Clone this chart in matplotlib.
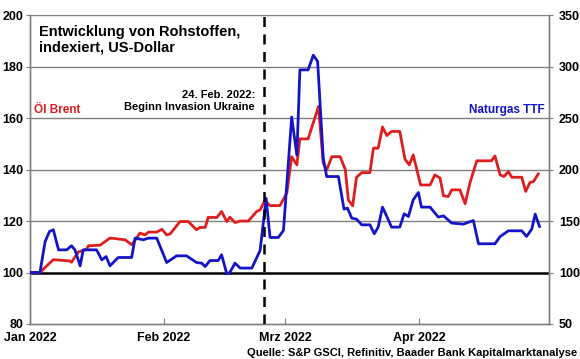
import matplotlib
matplotlib.use("Agg")
import matplotlib.pyplot as plt

plt.rcParams['font.family'] = ['Liberation Sans', 'DejaVu Sans']
plt.rcParams['font.weight'] = 'bold'

# days since 1 Jan 2022
brent_days = [0, 2.3, 3.5, 5.4, 9.2, 9.6, 11.2, 13.1, 13.5, 16.2, 18.5, 22.0, 23.5, 24.7,
              25.4, 26.6, 27.4, 29.3, 30.5, 31.6, 32.4, 34.7, 36.6, 38.5, 39.3, 40.5,
              41.2, 43.2, 44.3, 45.5, 46.2, 47.4, 48.6, 50.5, 52.4, 53.2, 54.3, 55.5,
              57.8, 59.4, 60.5, 61.7, 62.4, 64.3, 66.7, 67.8, 68.6, 69.8, 71.7, 72.9,
              73.6, 74.6, 75.5, 76.7, 78.6, 79.4, 80.5, 81.5, 82.5, 83.6, 85.5, 86.7,
              87.7, 88.6, 90.3, 92.5, 93.6, 94.8, 95.6, 96.7, 97.5, 99.4, 100.6, 101.7,
              103.3, 106.7, 107.5, 108.7, 109.6, 110.6, 111.4, 113.7, 114.6, 115.6,
              116.4, 117.5]
brent = [100, 100, 102, 105, 104.5, 104, 108, 109, 110.4, 110.6, 113.4, 112.7, 110.8, 113.4,
         115.3, 114.6, 115.7, 115.7, 116.8, 114.6, 115, 119.8, 119.8, 116.6, 117.5, 117.5,
         121.4, 121.4, 123.7, 119.8, 121.5, 119.4, 120, 120, 123.7, 124.3, 128, 126,
         126, 131, 145, 141.8, 151.9, 151.9, 164.5, 142.5, 139.9, 145, 145, 140,
         128.2, 125.9, 137, 138.8, 138.8, 148.3, 148.3, 156.5, 153.2, 154.8, 154.8, 144,
         141.8, 145.7, 134, 134, 137.9, 136.7, 129.8, 129.5, 132.1, 132.1, 126.7, 134.7,
         143.4, 143.4, 145.3, 137.9, 137.3, 139.2, 137, 137, 131.5, 135,
         135.3, 138.3]

ttf_days = [0, 2.3, 3.5, 4.5, 5.4, 6.6, 8.5, 9.6, 10.4, 11.6, 12.3, 15.4, 16.6, 17.6,
            18.5, 20.4, 23.5, 24.3, 26.2, 27.4, 29.3, 31.6, 33.9, 36.2, 38.5, 39.7,
            40.5, 41.6, 43.5, 44.3, 45.5, 46.2, 47.4, 48.6, 51.3, 53.2, 54.6, 55.5,
            57.4, 58.6, 60.5, 61.7, 62.4, 64.3, 65.5, 66.5, 67.8, 68.6, 71.3, 72.6,
            73.4, 74.4, 75.5, 76.7, 78.6, 79.6, 80.5, 81.5, 82.5, 83.6, 85.5, 86.5,
            87.5, 88.6, 89.8, 90.5, 92.5, 94.4, 95.6, 97.5, 100.2, 102.5, 103.7,
            107.5, 108.7, 110.6, 113.7, 114.8, 116.0, 116.8, 117.8]
ttf = [100, 100, 130, 139.8, 141.5, 122, 122, 126, 122, 106.5, 122, 122, 112.3, 115.5,
       106.5, 114.6, 114.6, 133.4, 131.8, 133.4, 133.4, 109.7, 116.2, 116.2, 109.7, 109.1,
       105.8, 111.6, 111.6, 117.2, 98.7, 100, 109.1, 104.3, 104.3, 121.4, 172, 134,
       134, 140.8, 251, 214, 296.8, 296.8, 311, 305, 211, 193.2, 193.2, 161.6,
       162.5, 152.8, 151.8, 146.3, 146.3, 137.6, 144.1, 163.5, 154.4, 144.1, 144.1, 157,
       154.4, 170.6, 177.7, 163.5, 163.5, 153.8, 155, 148, 147, 150.5, 127.9,
       127.9, 135, 140.5, 140.5, 135, 142.1, 156.7, 144.7]

month_ticks = [0, 31, 59, 90, 120]
month_labels = ['Jan 2022', 'Feb 2022', 'Mrz 2022', 'Apr 2022', '']
invasion_day = 54

red = '#e01e1e'
blue = '#1414c8'
grey = '#808080'

fig = plt.figure(figsize=(5.8, 3.59), dpi=100)
ax = fig.add_axes([0.0517, 0.0975, 0.8949, 0.8605])
ax2 = ax.twinx()

ax.set_xlim(0, 120)
ax.set_ylim(80, 200)
ax2.set_ylim(50, 350)

for y in [120, 140, 160, 180, 200]:
    ax.axhline(y, color=grey, lw=1, zorder=1)
ax.axhline(100, color='black', lw=1.8, zorder=2)

ax.plot(brent_days, brent, color=red, lw=2, zorder=3)
ax2.plot(ttf_days, ttf, color=blue, lw=2, zorder=3)
ax2.axvline(invasion_day, color='black', lw=1.8, ls=(0, (4, 3)), zorder=4)

ax.set_yticks([80, 100, 120, 140, 160, 180, 200])
ax2.set_yticks([50, 100, 150, 200, 250, 300, 350])
ax.set_xticks(month_ticks)
ax.set_xticklabels(month_labels)

for a in (ax, ax2):
    a.spines['top'].set_visible(False)
    for s in ['left', 'right', 'bottom']:
        a.spines[s].set_color(grey)
        a.spines[s].set_linewidth(1)
ax.tick_params(axis='y', length=3, color=grey, labelsize=9, pad=2)
ax2.tick_params(axis='y', length=3, color=grey, labelsize=9, pad=4)
ax.tick_params(axis='x', direction='in', length=4, color=grey, labelsize=9, pad=6)
for lab in ax.get_yticklabels() + ax2.get_yticklabels() + ax.get_xticklabels():
    lab.set_fontweight('bold')

ax.text(2, 196, 'Entwicklung von Rohstoffen,\nindexiert, US-Dollar', fontsize=10.5,
        fontweight='bold', va='top', ha='left', linespacing=1.1)
ax.text(52, 171, '24. Feb. 2022:\nBeginn Invasion Ukraine', fontsize=8, fontweight='bold',
        va='top', ha='right', linespacing=1.25)
ax.text(1, 163.2, 'Öl Brent', fontsize=8.5, fontweight='bold', color=red, va='center')
ax.text(119, 163.2, 'Naturgas TTF', fontsize=8.5, fontweight='bold', color=blue,
        va='center', ha='right')
fig.text(0.995, 0.004, 'Quelle: S&P GSCI, Refinitiv, Baader Bank Kapitalmarktanalyse',
         fontsize=8, fontweight='bold', ha='right', va='bottom')

fig.savefig('out.png', dpi=100)
